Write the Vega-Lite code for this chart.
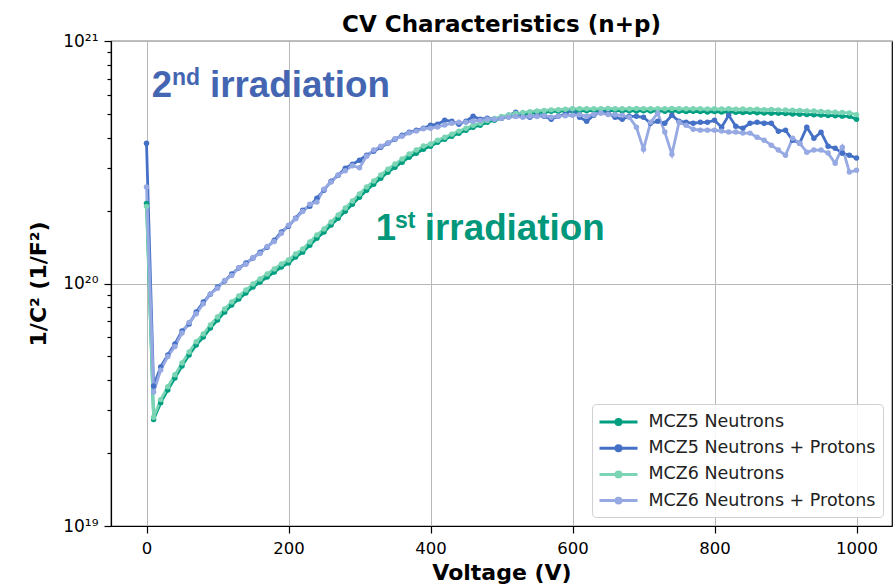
{
  "$schema": "https://vega.github.io/schema/vega-lite/v6.json",
  "width": 781,
  "height": 485,
  "autosize": {"type": "none"},
  "padding": {"left": 111, "top": 41, "right": 3, "bottom": 61},
  "background": "white",
  "config": {
    "view": {"stroke": "#000", "strokeWidth": 1.2},
    "font": "DejaVu Sans",
    "axis": {
      "labelFont": "DejaVu Sans",
      "labelColor": "#000",
      "titleFont": "DejaVu Sans",
      "titleColor": "#000",
      "titleFontWeight": "bold",
      "titleFontSize": 22,
      "tickColor": "#000",
      "tickWidth": 1.2,
      "domainColor": "#000",
      "domainWidth": 1.2,
      "gridColor": "#b8b8b8",
      "gridWidth": 1
    }
  },
  "title": {
    "text": "CV Characteristics (n+p)",
    "font": "DejaVu Sans",
    "fontSize": 23,
    "fontWeight": "bold",
    "color": "#000",
    "anchor": "middle",
    "offset": -5
  },
  "datasets": {
    "cv": [
      {"V": 0, "MCZ5 Neutrons": 2.14e20, "MCZ5 Neutrons + Protons": 3.79e20, "MCZ6 Neutrons": 2.08e20, "MCZ6 Neutrons + Protons": 2.50e20},
      {"V": 10, "MCZ5 Neutrons": 0.275e20, "MCZ5 Neutrons + Protons": 0.378e20, "MCZ6 Neutrons": 0.281e20, "MCZ6 Neutrons + Protons": 0.357e20},
      {"V": 20, "MCZ5 Neutrons": 0.322e20, "MCZ5 Neutrons + Protons": 0.453e20, "MCZ6 Neutrons": 0.332e20, "MCZ6 Neutrons + Protons": 0.440e20},
      {"V": 30, "MCZ5 Neutrons": 0.364e20, "MCZ5 Neutrons + Protons": 0.507e20, "MCZ6 Neutrons": 0.375e20, "MCZ6 Neutrons + Protons": 0.500e20},
      {"V": 40, "MCZ5 Neutrons": 0.408e20, "MCZ5 Neutrons + Protons": 0.563e20, "MCZ6 Neutrons": 0.420e20, "MCZ6 Neutrons + Protons": 0.550e20},
      {"V": 50, "MCZ5 Neutrons": 0.457e20, "MCZ5 Neutrons + Protons": 0.637e20, "MCZ6 Neutrons": 0.470e20, "MCZ6 Neutrons + Protons": 0.625e20},
      {"V": 60, "MCZ5 Neutrons": 0.507e20, "MCZ5 Neutrons + Protons": 0.680e20, "MCZ6 Neutrons": 0.522e20, "MCZ6 Neutrons + Protons": 0.690e20},
      {"V": 70, "MCZ5 Neutrons": 0.558e20, "MCZ5 Neutrons + Protons": 0.763e20, "MCZ6 Neutrons": 0.575e20, "MCZ6 Neutrons + Protons": 0.750e20},
      {"V": 80, "MCZ5 Neutrons": 0.601e20, "MCZ5 Neutrons + Protons": 0.838e20, "MCZ6 Neutrons": 0.619e20, "MCZ6 Neutrons + Protons": 0.825e20},
      {"V": 90, "MCZ5 Neutrons": 0.655e20, "MCZ5 Neutrons + Protons": 0.904e20, "MCZ6 Neutrons": 0.675e20, "MCZ6 Neutrons + Protons": 0.905e20},
      {"V": 100, "MCZ5 Neutrons": 0.707e20, "MCZ5 Neutrons + Protons": 0.967e20, "MCZ6 Neutrons": 0.728e20, "MCZ6 Neutrons + Protons": 0.955e20},
      {"V": 110, "MCZ5 Neutrons": 0.762e20, "MCZ5 Neutrons + Protons": 1.023e20, "MCZ6 Neutrons": 0.785e20, "MCZ6 Neutrons + Protons": 1.030e20},
      {"V": 120, "MCZ5 Neutrons": 0.815e20, "MCZ5 Neutrons + Protons": 1.094e20, "MCZ6 Neutrons": 0.839e20, "MCZ6 Neutrons + Protons": 1.080e20},
      {"V": 130, "MCZ5 Neutrons": 0.863e20, "MCZ5 Neutrons + Protons": 1.158e20, "MCZ6 Neutrons": 0.888e20, "MCZ6 Neutrons + Protons": 1.160e20},
      {"V": 140, "MCZ5 Neutrons": 0.913e20, "MCZ5 Neutrons + Protons": 1.214e20, "MCZ6 Neutrons": 0.940e20, "MCZ6 Neutrons + Protons": 1.200e20},
      {"V": 150, "MCZ5 Neutrons": 0.967e20, "MCZ5 Neutrons + Protons": 1.273e20, "MCZ6 Neutrons": 0.995e20, "MCZ6 Neutrons + Protons": 1.280e20},
      {"V": 160, "MCZ5 Neutrons": 1.014e20, "MCZ5 Neutrons + Protons": 1.347e20, "MCZ6 Neutrons": 1.044e20, "MCZ6 Neutrons + Protons": 1.330e20},
      {"V": 170, "MCZ5 Neutrons": 1.063e20, "MCZ5 Neutrons + Protons": 1.412e20, "MCZ6 Neutrons": 1.095e20, "MCZ6 Neutrons + Protons": 1.420e20},
      {"V": 180, "MCZ5 Neutrons": 1.115e20, "MCZ5 Neutrons + Protons": 1.509e20, "MCZ6 Neutrons": 1.148e20, "MCZ6 Neutrons + Protons": 1.490e20},
      {"V": 190, "MCZ5 Neutrons": 1.169e20, "MCZ5 Neutrons + Protons": 1.629e20, "MCZ6 Neutrons": 1.204e20, "MCZ6 Neutrons + Protons": 1.610e20},
      {"V": 200, "MCZ5 Neutrons": 1.214e20, "MCZ5 Neutrons + Protons": 1.724e20, "MCZ6 Neutrons": 1.250e20, "MCZ6 Neutrons + Protons": 1.740e20},
      {"V": 210, "MCZ5 Neutrons": 1.285e20, "MCZ5 Neutrons + Protons": 1.860e20, "MCZ6 Neutrons": 1.324e20, "MCZ6 Neutrons + Protons": 1.850e20},
      {"V": 220, "MCZ5 Neutrons": 1.347e20, "MCZ5 Neutrons + Protons": 2.006e20, "MCZ6 Neutrons": 1.387e20, "MCZ6 Neutrons + Protons": 1.980e20},
      {"V": 230, "MCZ5 Neutrons": 1.439e20, "MCZ5 Neutrons + Protons": 2.083e20, "MCZ6 Neutrons": 1.482e20, "MCZ6 Neutrons + Protons": 2.120e20},
      {"V": 240, "MCZ5 Neutrons": 1.538e20, "MCZ5 Neutrons + Protons": 2.248e20, "MCZ6 Neutrons": 1.584e20, "MCZ6 Neutrons + Protons": 2.170e20},
      {"V": 250, "MCZ5 Neutrons": 1.629e20, "MCZ5 Neutrons + Protons": 2.426e20, "MCZ6 Neutrons": 1.678e20, "MCZ6 Neutrons + Protons": 2.450e20},
      {"V": 260, "MCZ5 Neutrons": 1.741e20, "MCZ5 Neutrons + Protons": 2.642e20, "MCZ6 Neutrons": 1.793e20, "MCZ6 Neutrons + Protons": 2.620e20},
      {"V": 270, "MCZ5 Neutrons": 1.860e20, "MCZ5 Neutrons + Protons": 2.796e20, "MCZ6 Neutrons": 1.916e20, "MCZ6 Neutrons + Protons": 2.800e20},
      {"V": 280, "MCZ5 Neutrons": 1.987e20, "MCZ5 Neutrons + Protons": 2.988e20, "MCZ6 Neutrons": 2.047e20, "MCZ6 Neutrons + Protons": 2.920e20},
      {"V": 290, "MCZ5 Neutrons": 2.124e20, "MCZ5 Neutrons + Protons": 3.104e20, "MCZ6 Neutrons": 2.188e20, "MCZ6 Neutrons + Protons": 3.060e20},
      {"V": 300, "MCZ5 Neutrons": 2.270e20, "MCZ5 Neutrons + Protons": 3.224e20, "MCZ6 Neutrons": 2.338e20, "MCZ6 Neutrons + Protons": 3.000e20},
      {"V": 310, "MCZ5 Neutrons": 2.426e20, "MCZ5 Neutrons + Protons": 3.381e20, "MCZ6 Neutrons": 2.499e20, "MCZ6 Neutrons + Protons": 3.350e20},
      {"V": 320, "MCZ5 Neutrons": 2.568e20, "MCZ5 Neutrons + Protons": 3.512e20, "MCZ6 Neutrons": 2.645e20, "MCZ6 Neutrons + Protons": 3.550e20},
      {"V": 330, "MCZ5 Neutrons": 2.718e20, "MCZ5 Neutrons + Protons": 3.647e20, "MCZ6 Neutrons": 2.800e20, "MCZ6 Neutrons + Protons": 3.680e20},
      {"V": 340, "MCZ5 Neutrons": 2.876e20, "MCZ5 Neutrons + Protons": 3.789e20, "MCZ6 Neutrons": 2.962e20, "MCZ6 Neutrons + Protons": 3.800e20},
      {"V": 350, "MCZ5 Neutrons": 3.017e20, "MCZ5 Neutrons + Protons": 3.935e20, "MCZ6 Neutrons": 3.108e20, "MCZ6 Neutrons + Protons": 3.950e20},
      {"V": 360, "MCZ5 Neutrons": 3.163e20, "MCZ5 Neutrons + Protons": 4.088e20, "MCZ6 Neutrons": 3.258e20, "MCZ6 Neutrons + Protons": 4.050e20},
      {"V": 370, "MCZ5 Neutrons": 3.317e20, "MCZ5 Neutrons + Protons": 4.205e20, "MCZ6 Neutrons": 3.417e20, "MCZ6 Neutrons + Protons": 4.180e20},
      {"V": 380, "MCZ5 Neutrons": 3.446e20, "MCZ5 Neutrons + Protons": 4.286e20, "MCZ6 Neutrons": 3.549e20, "MCZ6 Neutrons + Protons": 4.250e20},
      {"V": 390, "MCZ5 Neutrons": 3.579e20, "MCZ5 Neutrons + Protons": 4.368e20, "MCZ6 Neutrons": 3.686e20, "MCZ6 Neutrons + Protons": 4.350e20},
      {"V": 400, "MCZ5 Neutrons": 3.682e20, "MCZ5 Neutrons + Protons": 4.494e20, "MCZ6 Neutrons": 3.760e20, "MCZ6 Neutrons + Protons": 4.370e20},
      {"V": 410, "MCZ5 Neutrons": 3.825e20, "MCZ5 Neutrons + Protons": 4.538e20, "MCZ6 Neutrons": 3.900e20, "MCZ6 Neutrons + Protons": 4.420e20},
      {"V": 420, "MCZ5 Neutrons": 3.935e20, "MCZ5 Neutrons + Protons": 4.712e20, "MCZ6 Neutrons": 4.010e20, "MCZ6 Neutrons + Protons": 4.500e20},
      {"V": 430, "MCZ5 Neutrons": 4.049e20, "MCZ5 Neutrons + Protons": 4.667e20, "MCZ6 Neutrons": 4.130e20, "MCZ6 Neutrons + Protons": 4.580e20},
      {"V": 440, "MCZ5 Neutrons": 4.166e20, "MCZ5 Neutrons + Protons": 4.538e20, "MCZ6 Neutrons": 4.250e20, "MCZ6 Neutrons + Protons": 4.620e20},
      {"V": 450, "MCZ5 Neutrons": 4.286e20, "MCZ5 Neutrons + Protons": 4.667e20, "MCZ6 Neutrons": 4.370e20, "MCZ6 Neutrons + Protons": 4.620e20},
      {"V": 460, "MCZ5 Neutrons": 4.410e20, "MCZ5 Neutrons + Protons": 4.893e20, "MCZ6 Neutrons": 4.490e20, "MCZ6 Neutrons + Protons": 4.670e20},
      {"V": 470, "MCZ5 Neutrons": 4.493e20, "MCZ5 Neutrons + Protons": 4.757e20, "MCZ6 Neutrons": 4.580e20, "MCZ6 Neutrons + Protons": 4.700e20},
      {"V": 480, "MCZ5 Neutrons": 4.623e20, "MCZ5 Neutrons + Protons": 4.802e20, "MCZ6 Neutrons": 4.700e20, "MCZ6 Neutrons + Protons": 4.760e20},
      {"V": 490, "MCZ5 Neutrons": 4.712e20, "MCZ5 Neutrons + Protons": 4.757e20, "MCZ6 Neutrons": 4.790e20, "MCZ6 Neutrons + Protons": 4.760e20},
      {"V": 500, "MCZ5 Neutrons": 4.802e20, "MCZ5 Neutrons + Protons": 4.802e20, "MCZ6 Neutrons": 4.880e20, "MCZ6 Neutrons + Protons": 4.800e20},
      {"V": 510, "MCZ5 Neutrons": 4.871e20, "MCZ5 Neutrons + Protons": 4.939e20, "MCZ6 Neutrons": 4.950e20, "MCZ6 Neutrons + Protons": 4.850e20},
      {"V": 520, "MCZ5 Neutrons": 4.939e20, "MCZ5 Neutrons + Protons": 5.084e20, "MCZ6 Neutrons": 5.020e20, "MCZ6 Neutrons + Protons": 4.880e20},
      {"V": 530, "MCZ5 Neutrons": 4.988e20, "MCZ5 Neutrons + Protons": 4.893e20, "MCZ6 Neutrons": 5.070e20, "MCZ6 Neutrons + Protons": 4.850e20},
      {"V": 540, "MCZ5 Neutrons": 5.036e20, "MCZ5 Neutrons + Protons": 4.848e20, "MCZ6 Neutrons": 5.110e20, "MCZ6 Neutrons + Protons": 4.900e20},
      {"V": 550, "MCZ5 Neutrons": 5.084e20, "MCZ5 Neutrons + Protons": 4.939e20, "MCZ6 Neutrons": 5.150e20, "MCZ6 Neutrons + Protons": 4.880e20},
      {"V": 560, "MCZ5 Neutrons": 5.084e20, "MCZ5 Neutrons + Protons": 4.893e20, "MCZ6 Neutrons": 5.170e20, "MCZ6 Neutrons + Protons": 4.920e20},
      {"V": 570, "MCZ5 Neutrons": 5.132e20, "MCZ5 Neutrons + Protons": 4.757e20, "MCZ6 Neutrons": 5.200e20, "MCZ6 Neutrons + Protons": 4.850e20},
      {"V": 580, "MCZ5 Neutrons": 5.132e20, "MCZ5 Neutrons + Protons": 4.893e20, "MCZ6 Neutrons": 5.210e20, "MCZ6 Neutrons + Protons": 4.900e20},
      {"V": 590, "MCZ5 Neutrons": 5.150e20, "MCZ5 Neutrons + Protons": 4.988e20, "MCZ6 Neutrons": 5.230e20, "MCZ6 Neutrons + Protons": 4.920e20},
      {"V": 600, "MCZ5 Neutrons": 5.160e20, "MCZ5 Neutrons + Protons": 5.230e20, "MCZ6 Neutrons": 5.250e20, "MCZ6 Neutrons + Protons": 4.940e20},
      {"V": 610, "MCZ5 Neutrons": 5.150e20, "MCZ5 Neutrons + Protons": 4.848e20, "MCZ6 Neutrons": 5.260e20, "MCZ6 Neutrons + Protons": 4.960e20},
      {"V": 620, "MCZ5 Neutrons": 5.160e20, "MCZ5 Neutrons + Protons": 4.667e20, "MCZ6 Neutrons": 5.250e20, "MCZ6 Neutrons + Protons": 4.900e20},
      {"V": 630, "MCZ5 Neutrons": 5.170e20, "MCZ5 Neutrons + Protons": 4.939e20, "MCZ6 Neutrons": 5.260e20, "MCZ6 Neutrons + Protons": 4.980e20},
      {"V": 640, "MCZ5 Neutrons": 5.150e20, "MCZ5 Neutrons + Protons": 5.132e20, "MCZ6 Neutrons": 5.250e20, "MCZ6 Neutrons + Protons": 5.040e20},
      {"V": 650, "MCZ5 Neutrons": 5.160e20, "MCZ5 Neutrons + Protons": 5.036e20, "MCZ6 Neutrons": 5.270e20, "MCZ6 Neutrons + Protons": 4.980e20},
      {"V": 660, "MCZ5 Neutrons": 5.170e20, "MCZ5 Neutrons + Protons": 4.848e20, "MCZ6 Neutrons": 5.260e20, "MCZ6 Neutrons + Protons": 4.960e20},
      {"V": 670, "MCZ5 Neutrons": 5.150e20, "MCZ5 Neutrons + Protons": 4.757e20, "MCZ6 Neutrons": 5.250e20, "MCZ6 Neutrons + Protons": 4.940e20},
      {"V": 680, "MCZ5 Neutrons": 5.160e20, "MCZ5 Neutrons + Protons": 4.893e20, "MCZ6 Neutrons": 5.260e20, "MCZ6 Neutrons + Protons": 4.850e20},
      {"V": 690, "MCZ5 Neutrons": 5.150e20, "MCZ5 Neutrons + Protons": 4.893e20, "MCZ6 Neutrons": 5.270e20, "MCZ6 Neutrons + Protons": 4.410e20},
      {"V": 700, "MCZ5 Neutrons": 5.160e20, "MCZ5 Neutrons + Protons": 4.848e20, "MCZ6 Neutrons": 5.260e20, "MCZ6 Neutrons + Protons": 3.580e20},
      {"V": 710, "MCZ5 Neutrons": 5.140e20, "MCZ5 Neutrons + Protons": 4.580e20, "MCZ6 Neutrons": 5.250e20, "MCZ6 Neutrons + Protons": 4.620e20},
      {"V": 720, "MCZ5 Neutrons": 5.150e20, "MCZ5 Neutrons + Protons": 4.667e20, "MCZ6 Neutrons": 5.260e20, "MCZ6 Neutrons + Protons": 5.040e20},
      {"V": 730, "MCZ5 Neutrons": 5.130e20, "MCZ5 Neutrons + Protons": 4.580e20, "MCZ6 Neutrons": 5.250e20, "MCZ6 Neutrons + Protons": 4.210e20},
      {"V": 740, "MCZ5 Neutrons": 5.150e20, "MCZ5 Neutrons + Protons": 4.939e20, "MCZ6 Neutrons": 5.270e20, "MCZ6 Neutrons + Protons": 3.410e20},
      {"V": 750, "MCZ5 Neutrons": 5.130e20, "MCZ5 Neutrons + Protons": 4.667e20, "MCZ6 Neutrons": 5.260e20, "MCZ6 Neutrons + Protons": 4.620e20},
      {"V": 760, "MCZ5 Neutrons": 5.120e20, "MCZ5 Neutrons + Protons": 4.620e20, "MCZ6 Neutrons": 5.250e20, "MCZ6 Neutrons + Protons": 4.490e20},
      {"V": 770, "MCZ5 Neutrons": 5.130e20, "MCZ5 Neutrons + Protons": 4.580e20, "MCZ6 Neutrons": 5.260e20, "MCZ6 Neutrons + Protons": 4.330e20},
      {"V": 780, "MCZ5 Neutrons": 5.120e20, "MCZ5 Neutrons + Protons": 4.620e20, "MCZ6 Neutrons": 5.250e20, "MCZ6 Neutrons + Protons": 4.290e20},
      {"V": 790, "MCZ5 Neutrons": 5.100e20, "MCZ5 Neutrons + Protons": 4.620e20, "MCZ6 Neutrons": 5.240e20, "MCZ6 Neutrons + Protons": 4.290e20},
      {"V": 800, "MCZ5 Neutrons": 5.120e20, "MCZ5 Neutrons + Protons": 4.712e20, "MCZ6 Neutrons": 5.250e20, "MCZ6 Neutrons + Protons": 4.290e20},
      {"V": 810, "MCZ5 Neutrons": 5.090e20, "MCZ5 Neutrons + Protons": 4.410e20, "MCZ6 Neutrons": 5.240e20, "MCZ6 Neutrons + Protons": 4.250e20},
      {"V": 820, "MCZ5 Neutrons": 5.100e20, "MCZ5 Neutrons + Protons": 4.939e20, "MCZ6 Neutrons": 5.250e20, "MCZ6 Neutrons + Protons": 4.210e20},
      {"V": 830, "MCZ5 Neutrons": 5.080e20, "MCZ5 Neutrons + Protons": 4.450e20, "MCZ6 Neutrons": 5.230e20, "MCZ6 Neutrons + Protons": 4.210e20},
      {"V": 840, "MCZ5 Neutrons": 5.070e20, "MCZ5 Neutrons + Protons": 4.368e20, "MCZ6 Neutrons": 5.240e20, "MCZ6 Neutrons + Protons": 4.170e20},
      {"V": 850, "MCZ5 Neutrons": 5.080e20, "MCZ5 Neutrons + Protons": 4.580e20, "MCZ6 Neutrons": 5.220e20, "MCZ6 Neutrons + Protons": 4.170e20},
      {"V": 860, "MCZ5 Neutrons": 5.060e20, "MCZ5 Neutrons + Protons": 4.620e20, "MCZ6 Neutrons": 5.230e20, "MCZ6 Neutrons + Protons": 4.010e20},
      {"V": 870, "MCZ5 Neutrons": 5.050e20, "MCZ5 Neutrons + Protons": 4.580e20, "MCZ6 Neutrons": 5.210e20, "MCZ6 Neutrons + Protons": 3.900e20},
      {"V": 880, "MCZ5 Neutrons": 5.040e20, "MCZ5 Neutrons + Protons": 4.580e20, "MCZ6 Neutrons": 5.220e20, "MCZ6 Neutrons + Protons": 3.720e20},
      {"V": 890, "MCZ5 Neutrons": 5.030e20, "MCZ5 Neutrons + Protons": 4.245e20, "MCZ6 Neutrons": 5.200e20, "MCZ6 Neutrons + Protons": 3.550e20},
      {"V": 900, "MCZ5 Neutrons": 5.020e20, "MCZ5 Neutrons + Protons": 4.286e20, "MCZ6 Neutrons": 5.190e20, "MCZ6 Neutrons + Protons": 3.380e20},
      {"V": 910, "MCZ5 Neutrons": 5.000e20, "MCZ5 Neutrons + Protons": 3.898e20, "MCZ6 Neutrons": 5.180e20, "MCZ6 Neutrons + Protons": 3.970e20},
      {"V": 920, "MCZ5 Neutrons": 4.990e20, "MCZ5 Neutrons + Protons": 3.790e20, "MCZ6 Neutrons": 5.170e20, "MCZ6 Neutrons + Protons": 3.790e20},
      {"V": 930, "MCZ5 Neutrons": 4.980e20, "MCZ5 Neutrons + Protons": 4.410e20, "MCZ6 Neutrons": 5.150e20, "MCZ6 Neutrons + Protons": 3.480e20},
      {"V": 940, "MCZ5 Neutrons": 4.960e20, "MCZ5 Neutrons + Protons": 3.970e20, "MCZ6 Neutrons": 5.140e20, "MCZ6 Neutrons + Protons": 3.550e20},
      {"V": 950, "MCZ5 Neutrons": 4.950e20, "MCZ5 Neutrons + Protons": 4.205e20, "MCZ6 Neutrons": 5.120e20, "MCZ6 Neutrons + Protons": 3.550e20},
      {"V": 960, "MCZ5 Neutrons": 4.930e20, "MCZ5 Neutrons + Protons": 3.682e20, "MCZ6 Neutrons": 5.100e20, "MCZ6 Neutrons + Protons": 3.450e20},
      {"V": 970, "MCZ5 Neutrons": 4.920e20, "MCZ5 Neutrons + Protons": 3.613e20, "MCZ6 Neutrons": 5.080e20, "MCZ6 Neutrons + Protons": 3.130e20},
      {"V": 980, "MCZ5 Neutrons": 4.900e20, "MCZ5 Neutrons + Protons": 3.446e20, "MCZ6 Neutrons": 5.070e20, "MCZ6 Neutrons + Protons": 3.650e20},
      {"V": 990, "MCZ5 Neutrons": 4.890e20, "MCZ5 Neutrons + Protons": 3.380e20, "MCZ6 Neutrons": 5.050e20, "MCZ6 Neutrons + Protons": 2.880e20},
      {"V": 1000, "MCZ5 Neutrons": 4.760e20, "MCZ5 Neutrons + Protons": 3.290e20, "MCZ6 Neutrons": 4.970e20, "MCZ6 Neutrons + Protons": 2.930e20}
    ]
  },
  "layer": [
    {
      "data": {"name": "cv"},
      "transform": [
        {"fold": ["MCZ5 Neutrons", "MCZ5 Neutrons + Protons", "MCZ6 Neutrons", "MCZ6 Neutrons + Protons"], "as": ["Series", "C"]}
      ],
      "mark": {"type": "line", "strokeWidth": 2.8, "point": {"filled": true, "size": 30, "opacity": 1}},
      "encoding": {
        "x": {
          "field": "V",
          "type": "quantitative",
          "scale": {"domain": [-50, 1050], "nice": false, "zero": false},
          "axis": {
            "values": [0, 200, 400, 600, 800, 1000],
            "format": "d",
            "title": "Voltage (V)",
            "titlePadding": 6,
            "labelFontSize": 16.5,
            "labelPadding": 7,
            "labelFlush": false,
            "tickSize": 7
          }
        },
        "y": {
          "field": "C",
          "type": "quantitative",
          "scale": {"type": "log", "domain": [1e19, 1e21], "nice": false},
          "axis": {
            "values": [1e19, 2e19, 3e19, 4e19, 5e19, 6e19, 7e19, 8e19, 9e19, 1e20, 2e20, 3e20, 4e20, 5e20, 6e20, 7e20, 8e20, 9e20, 1e21],
            "labelExpr": "datum.value == 1e21 ? '10²¹' : datum.value == 1e20 ? '10²⁰' : datum.value == 1e19 ? '10¹⁹' : ''",
            "labelOverlap": false,
            "labelFontSize": 17,
            "labelPadding": 6,
            "tickSize": {"condition": {"test": "datum.value == 1e19 || datum.value == 1e20 || datum.value == 1e21", "value": 7}, "value": 4},
            "gridOpacity": {"condition": {"test": "datum.value == 1e19 || datum.value == 1e20 || datum.value == 1e21", "value": 1}, "value": 0},
            "title": "1/C² (1/F²)",
            "titlePadding": 12
          }
        },
        "color": {
          "field": "Series",
          "type": "nominal",
          "scale": {
            "domain": ["MCZ5 Neutrons", "MCZ5 Neutrons + Protons", "MCZ6 Neutrons", "MCZ6 Neutrons + Protons"],
            "range": ["#009e80", "#4470c6", "#7bd4b4", "#96a9e2"]
          },
          "legend": {
            "title": null,
            "orient": "bottom-right",
            "offset": 9,
            "labelFont": "DejaVu Sans",
            "labelFontSize": 17.5,
            "labelColor": "#222",
            "labelLimit": 0,
            "labelOffset": 19,
            "symbolOffset": 8.5,
            "symbolType": "M-2,0L2,0M0.26,0A0.26,0.26,0,1,1,-0.26,0A0.26,0.26,0,1,1,0.26,0Z",
            "symbolSize": 361,
            "symbolStrokeWidth": 3,
            "rowPadding": 6.2,
            "padding": 7,
            "strokeColor": "#d0d0d0",
            "cornerRadius": 4,
            "fillColor": "rgba(255,255,255,0.85)"
          }
        }
      }
    },
    {
      "data": {"values": [{}]},
      "mark": {"type": "text", "font": "Liberation Sans", "fontWeight": "bold", "fontSize": 36.5, "color": "#4466b2", "align": "left", "baseline": "alphabetic"},
      "encoding": {"x": {"datum": 7.3}, "y": {"datum": 5.86e20}, "text": {"value": "2"}}
    },
    {
      "data": {"values": [{}]},
      "mark": {"type": "text", "font": "Liberation Sans", "fontWeight": "bold", "fontSize": 23, "color": "#4466b2", "align": "left", "baseline": "alphabetic"},
      "encoding": {"x": {"datum": 36}, "y": {"datum": 6.57e20}, "text": {"value": "nd"}}
    },
    {
      "data": {"values": [{}]},
      "mark": {"type": "text", "font": "Liberation Sans", "fontWeight": "bold", "fontSize": 36.8, "color": "#4466b2", "align": "left", "baseline": "alphabetic"},
      "encoding": {"x": {"datum": 89.4}, "y": {"datum": 5.86e20}, "text": {"value": "irradiation"}}
    },
    {
      "data": {"values": [{}]},
      "mark": {"type": "text", "font": "Liberation Sans", "fontWeight": "bold", "fontSize": 36.5, "color": "#00977a", "align": "left", "baseline": "alphabetic"},
      "encoding": {"x": {"datum": 323}, "y": {"datum": 1.509e20}, "text": {"value": "1"}}
    },
    {
      "data": {"values": [{}]},
      "mark": {"type": "text", "font": "Liberation Sans", "fontWeight": "bold", "fontSize": 23, "color": "#00977a", "align": "left", "baseline": "alphabetic"},
      "encoding": {"x": {"datum": 350}, "y": {"datum": 1.691e20}, "text": {"value": "st"}}
    },
    {
      "data": {"values": [{}]},
      "mark": {"type": "text", "font": "Liberation Sans", "fontWeight": "bold", "fontSize": 36.8, "color": "#00977a", "align": "left", "baseline": "alphabetic"},
      "encoding": {"x": {"datum": 392}, "y": {"datum": 1.509e20}, "text": {"value": "irradiation"}}
    }
  ]
}
